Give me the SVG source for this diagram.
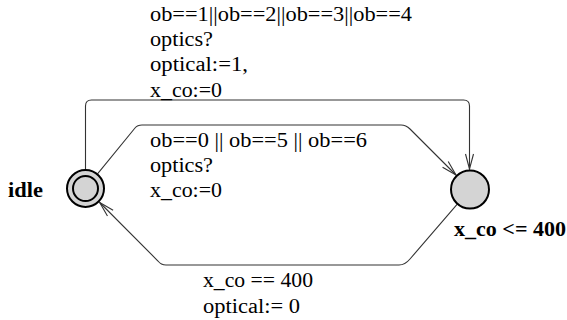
<svg xmlns="http://www.w3.org/2000/svg" width="567" height="320" viewBox="0 0 567 320">
  <style>
    .lbl { font-family: "Liberation Serif", "Times New Roman", serif; font-size: 20px; fill: #000; }
    .name { font-family: "Liberation Serif", "Times New Roman", serif; font-size: 20px; font-weight: bold; fill: #000; }
    .edge { fill: none; stroke: #333; stroke-width: 1.1; }
    .loc { fill: #d4d4d4; stroke: #000; stroke-width: 2; }
  </style>
  <defs>
    <marker id="arrow" viewBox="-16 -6 18 12" markerWidth="18" markerHeight="12" refX="0" refY="0" markerUnits="userSpaceOnUse" orient="auto">
      <path d="M-15,-4 L0,0 L-15,4" fill="none" stroke="#333" stroke-width="1.1"/>
    </marker>
  </defs>
  <rect width="567" height="320" fill="#ffffff"/>
  <g id="connectors">
    <path class="edge" d="M85.5,170 L85.5,106 Q85.5,100 91.5,100 L463.5,100 Q469.5,100 469.5,106 L469.5,169" marker-end="url(#arrow)"/>
    <path class="edge" d="M97.5,173.8 L135,128 Q137.5,125 142,125 L401,125 Q406,125 410,129 L456,175" marker-end="url(#arrow)"/>
    <path class="edge" d="M457.5,203.8 L410,259 Q405,265 399,265 L166,265 Q161,265 158,261 L99.7,202.5" marker-end="url(#arrow)"/>
  </g>
  <g id="idle">
    <circle class="loc" cx="85.5" cy="188.5" r="18.5"/>
    <circle cx="85.5" cy="188.5" r="12.5" fill="none" stroke="#000" stroke-width="2"/>
    <text class="name" x="8" y="197" textLength="35" lengthAdjust="spacingAndGlyphs">idle</text>
  </g>
  <g id="busy">
    <circle class="loc" cx="470" cy="189.5" r="19"/>
    <text class="name" x="454" y="236" textLength="112" lengthAdjust="spacingAndGlyphs">x_co &lt;= 400</text>
  </g>
  <g id="label-top">
    <text class="lbl" x="150" y="21" textLength="262" lengthAdjust="spacingAndGlyphs">ob==1||ob==2||ob==3||ob==4</text>
    <text class="lbl" x="150" y="46" textLength="63" lengthAdjust="spacingAndGlyphs">optics?</text>
    <text class="lbl" x="150" y="71" textLength="98" lengthAdjust="spacingAndGlyphs">optical:=1,</text>
    <text class="lbl" x="150" y="97" textLength="72" lengthAdjust="spacingAndGlyphs">x_co:=0</text>
  </g>
  <g id="label-middle">
    <text class="lbl" x="150" y="147" textLength="217" lengthAdjust="spacingAndGlyphs">ob==0 || ob==5 || ob==6</text>
    <text class="lbl" x="150" y="172" textLength="63" lengthAdjust="spacingAndGlyphs">optics?</text>
    <text class="lbl" x="150" y="197" textLength="72" lengthAdjust="spacingAndGlyphs">x_co:=0</text>
  </g>
  <g id="label-bottom">
    <text class="lbl" x="203" y="287" textLength="110" lengthAdjust="spacingAndGlyphs">x_co == 400</text>
    <text class="lbl" x="203" y="313" textLength="97" lengthAdjust="spacingAndGlyphs">optical:= 0</text>
  </g>
</svg>
